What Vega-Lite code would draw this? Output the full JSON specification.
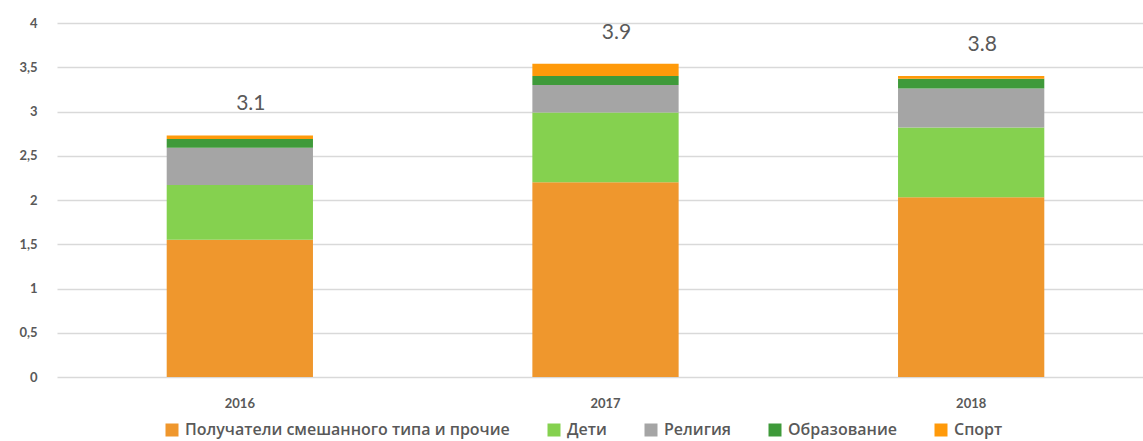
{
  "$schema": "https://vega.github.io/schema/vega-lite/v6.json",
  "width": 1086,
  "height": 354,
  "autosize": "none",
  "padding": {"left": 57, "top": 23, "right": 0, "bottom": 64},
  "background": "white",
  "config": {"view": {"stroke": null}},
  "datasets": {
    "segments": [
      {"year": "2016", "category": "Получатели смешанного типа и прочие", "value": 1.55},
      {"year": "2016", "category": "Дети", "value": 0.62},
      {"year": "2016", "category": "Религия", "value": 0.42},
      {"year": "2016", "category": "Образование", "value": 0.10},
      {"year": "2016", "category": "Спорт", "value": 0.04},
      {"year": "2017", "category": "Получатели смешанного типа и прочие", "value": 2.2},
      {"year": "2017", "category": "Дети", "value": 0.79},
      {"year": "2017", "category": "Религия", "value": 0.31},
      {"year": "2017", "category": "Образование", "value": 0.10},
      {"year": "2017", "category": "Спорт", "value": 0.14},
      {"year": "2018", "category": "Получатели смешанного типа и прочие", "value": 2.03},
      {"year": "2018", "category": "Дети", "value": 0.79},
      {"year": "2018", "category": "Религия", "value": 0.44},
      {"year": "2018", "category": "Образование", "value": 0.11},
      {"year": "2018", "category": "Спорт", "value": 0.03}
    ],
    "categories": [
      {"category": "Получатели смешанного типа и прочие", "rank": 1},
      {"category": "Дети", "rank": 2},
      {"category": "Религия", "rank": 3},
      {"category": "Образование", "rank": 4},
      {"category": "Спорт", "rank": 5}
    ],
    "totals": [
      {"year": "2016", "label": "3.1"},
      {"year": "2017", "label": "3.9"},
      {"year": "2018", "label": "3.8"}
    ]
  },
  "data": {"name": "segments"},
  "encoding": {
    "x": {
      "field": "year",
      "type": "nominal",
      "scale": {"range": [0, 1097], "paddingInner": 0.6, "paddingOuter": 0.3},
      "axis": {
        "title": null,
        "labelAngle": 0,
        "domain": false,
        "ticks": false,
        "labelPadding": 20,
        "labelFont": "Lato",
        "labelFontWeight": "bold",
        "labelFontSize": 13,
        "labelColor": "#595959"
      }
    }
  },
  "layer": [
    {
      "transform": [
        {"lookup": "category", "from": {"data": {"name": "categories"}, "key": "category", "fields": ["rank"]}}
      ],
      "mark": {"type": "bar"},
      "encoding": {
        "y": {
          "field": "value",
          "type": "quantitative",
          "stack": "zero",
          "scale": {"domain": [0, 4], "nice": false},
          "axis": {
            "title": null,
            "values": [0, 0.5, 1, 1.5, 2, 2.5, 3, 3.5, 4],
            "format": "~g",
            "labelExpr": "replace(datum.label, '.', ',')",
            "domain": false,
            "ticks": false,
            "labelPadding": 20,
            "gridColor": "#d9d9d9",
            "gridWidth": 1.3,
            "labelFont": "Lato",
            "labelFontWeight": "bold",
            "labelFontSize": 13,
            "labelColor": "#595959"
          }
        },
        "order": {"field": "rank", "type": "quantitative", "sort": "ascending"},
        "color": {
          "field": "category",
          "type": "nominal",
          "sort": ["Получатели смешанного типа и прочие", "Дети", "Религия", "Образование", "Спорт"],
          "scale": {
            "domain": ["Получатели смешанного типа и прочие", "Дети", "Религия", "Образование", "Спорт"],
            "range": ["#EF972D", "#85D14F", "#A5A5A5", "#3F9A3A", "#FF9A0A"]
          },
          "legend": {
            "title": null,
            "orient": "none",
            "legendX": 107,
            "legendY": 399,
            "direction": "horizontal",
            "symbolType": "square",
            "symbolSize": 169,
            "symbolStrokeWidth": 0,
            "symbolOpacity": 1,
            "labelFont": "Open Sans",
            "labelFontWeight": 600,
            "labelFontSize": 16,
            "labelColor": "#595959",
            "labelOffset": 5,
            "columnPadding": 36,
            "labelLimit": 400
          }
        }
      }
    },
    {
      "transform": [
        {"aggregate": [{"op": "sum", "field": "value", "as": "total"}], "groupby": ["year"]},
        {"lookup": "year", "from": {"data": {"name": "totals"}, "key": "year", "fields": ["label"]}}
      ],
      "mark": {"type": "text", "dy": -31, "dx": 11, "font": "Lato", "fontSize": 21, "color": "#595959", "baseline": "middle"},
      "encoding": {
        "y": {"field": "total", "type": "quantitative"},
        "text": {"field": "label", "type": "nominal"}
      }
    }
  ]
}
